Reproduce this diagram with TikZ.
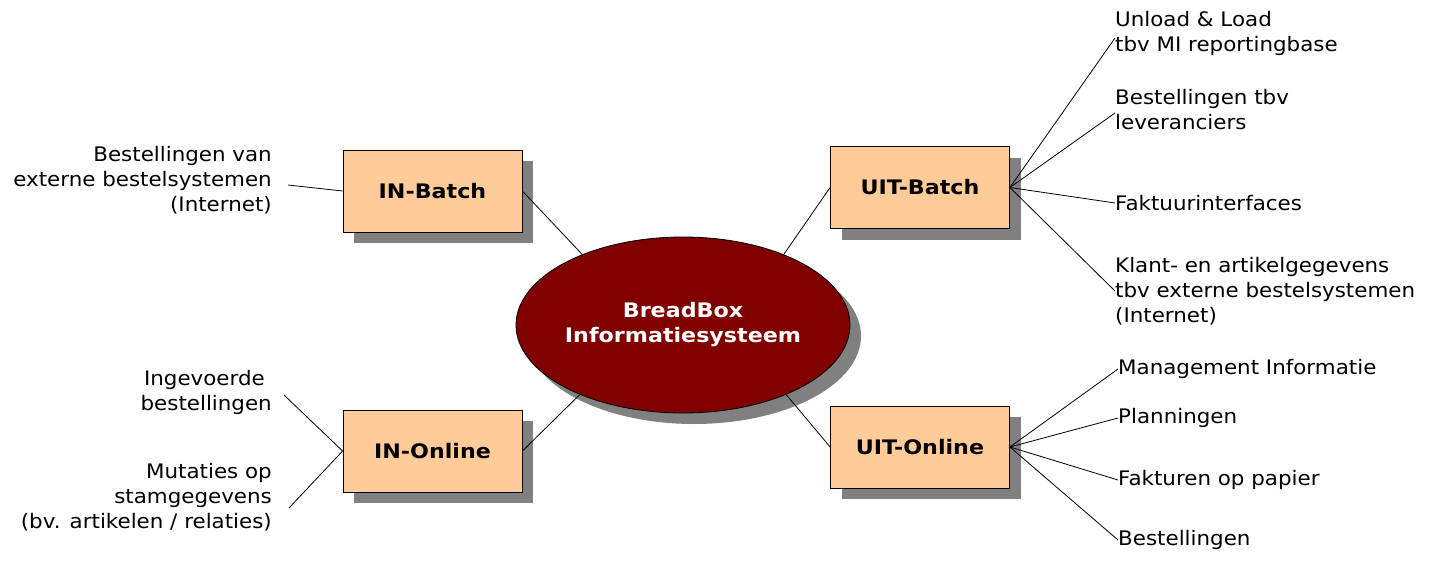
\documentclass[tikz,border=0pt]{standalone}
\usepackage{fontspec}
\setmainfont{DejaVu Sans}[UprightFeatures={FakeStretch=1.07}, BoldFeatures={FakeStretch=1.11}]
\usetikzlibrary{shapes.geometric,shadows}
\definecolor{peach}{HTML}{FFCC99}
\definecolor{darkred}{HTML}{800000}
\definecolor{shade}{HTML}{808080}
\begin{document}
\begin{tikzpicture}[x=1pt,y=-1pt,
  box/.style={draw=black, line width=0.8pt, fill=peach, minimum width=179pt, minimum height=82pt, inner sep=0pt,
    font=\fontsize{20}{25}\selectfont\bfseries,
    drop shadow={shadow xshift=11pt, shadow yshift=-11pt, fill=shade, opacity=1}},
  core/.style={ellipse, draw=black, line width=0.8pt, fill=darkred, minimum width=334pt, minimum height=176pt, inner sep=0pt,
    text=white, align=center, font=\fontsize{20}{25}\selectfont\bfseries,
    drop shadow={shadow xshift=11pt, shadow yshift=-11pt, fill=shade, opacity=1}},
  txt/.style={inner sep=0pt, font=\fontsize{20}{25}\selectfont},
  link/.style={draw=black, line width=0.8pt}]
\useasboundingbox (0,0) rectangle (1431,567);

% central ellipse
\node[core] (ell) at (683,325) {BreadBox\\Informatiesysteem};

% boxes
\node[box] (inb) at (432.5,191) {IN-Batch};
\node[box] (ino) at (432.5,451) {IN-Online};
\node[box] (uib) at (920,187.5) {UIT-Batch};
\node[box] (uio) at (920,447) {UIT-Online};

% left texts
\node[txt, align=right, anchor=east] (t1) at (272,180) {Bestellingen van\\externe bestelsystemen\\(Internet)};
\node[txt, align=right, anchor=east] (t2) at (272,392) {Ingevoerde\hspace*{0.35em}\\bestellingen};
\node[txt, align=right, anchor=east] (t3) at (272,497) {Mutaties op\\stamgegevens\\(bv. artikelen / relaties)};

% right texts
\node[txt, align=left, anchor=west] (r1) at (1115,33) {Unload \& Load\\tbv MI reportingbase};
\node[txt, align=left, anchor=west] (r2) at (1115,110) {Bestellingen tbv\\leveranciers};
\node[txt, anchor=west] (r3) at (1115,203) {Faktuurinterfaces};
\node[txt, align=left, anchor=west] (r4) at (1115,291) {Klant- en artikelgegevens\\tbv externe bestelsystemen\\(Internet)};
\node[txt, anchor=west] (r5) at (1118,369) {Management Informatie};
\node[txt, anchor=west] (r6) at (1118,418) {Planningen};
\node[txt, anchor=west] (r7) at (1118,480) {Fakturen op papier};
\node[txt, anchor=west] (r8) at (1118,540) {Bestellingen};

% free ends near left texts
\coordinate (c1) at ([xshift=16pt,yshift=-5pt]t1.east);
\coordinate (c2) at ([xshift=12pt,yshift=-3pt]t2.east);
\coordinate (c3) at ([xshift=17pt,yshift=-11pt]t3.east);

% connectors to the centre
\draw[link] (inb.east) -- (ell.145);
\draw[link] (ino.east) -- (ell.214);
\draw[link] (uib.west) -- (ell.35);
\draw[link] (uio.west) -- (ell.326);

% left connectors
\draw[link] (c1) -- (inb.west);
\draw[link] (c2) -- (ino.west);
\draw[link] (c3) -- (ino.west);

% right connectors
\draw[link] (uib.east) -- ([yshift=-5pt]r1.west);
\draw[link] (uib.east) -- ([yshift=-3pt]r2.west);
\draw[link] (uib.east) -- (r3.west);
\draw[link] (uib.east) -- (r4.west);
\draw[link] (uio.east) -- (r5.west);
\draw[link] (uio.east) -- (r6.west);
\draw[link] (uio.east) -- (r7.west);
\draw[link] (uio.east) -- (r8.west);
\end{tikzpicture}
\end{document}
